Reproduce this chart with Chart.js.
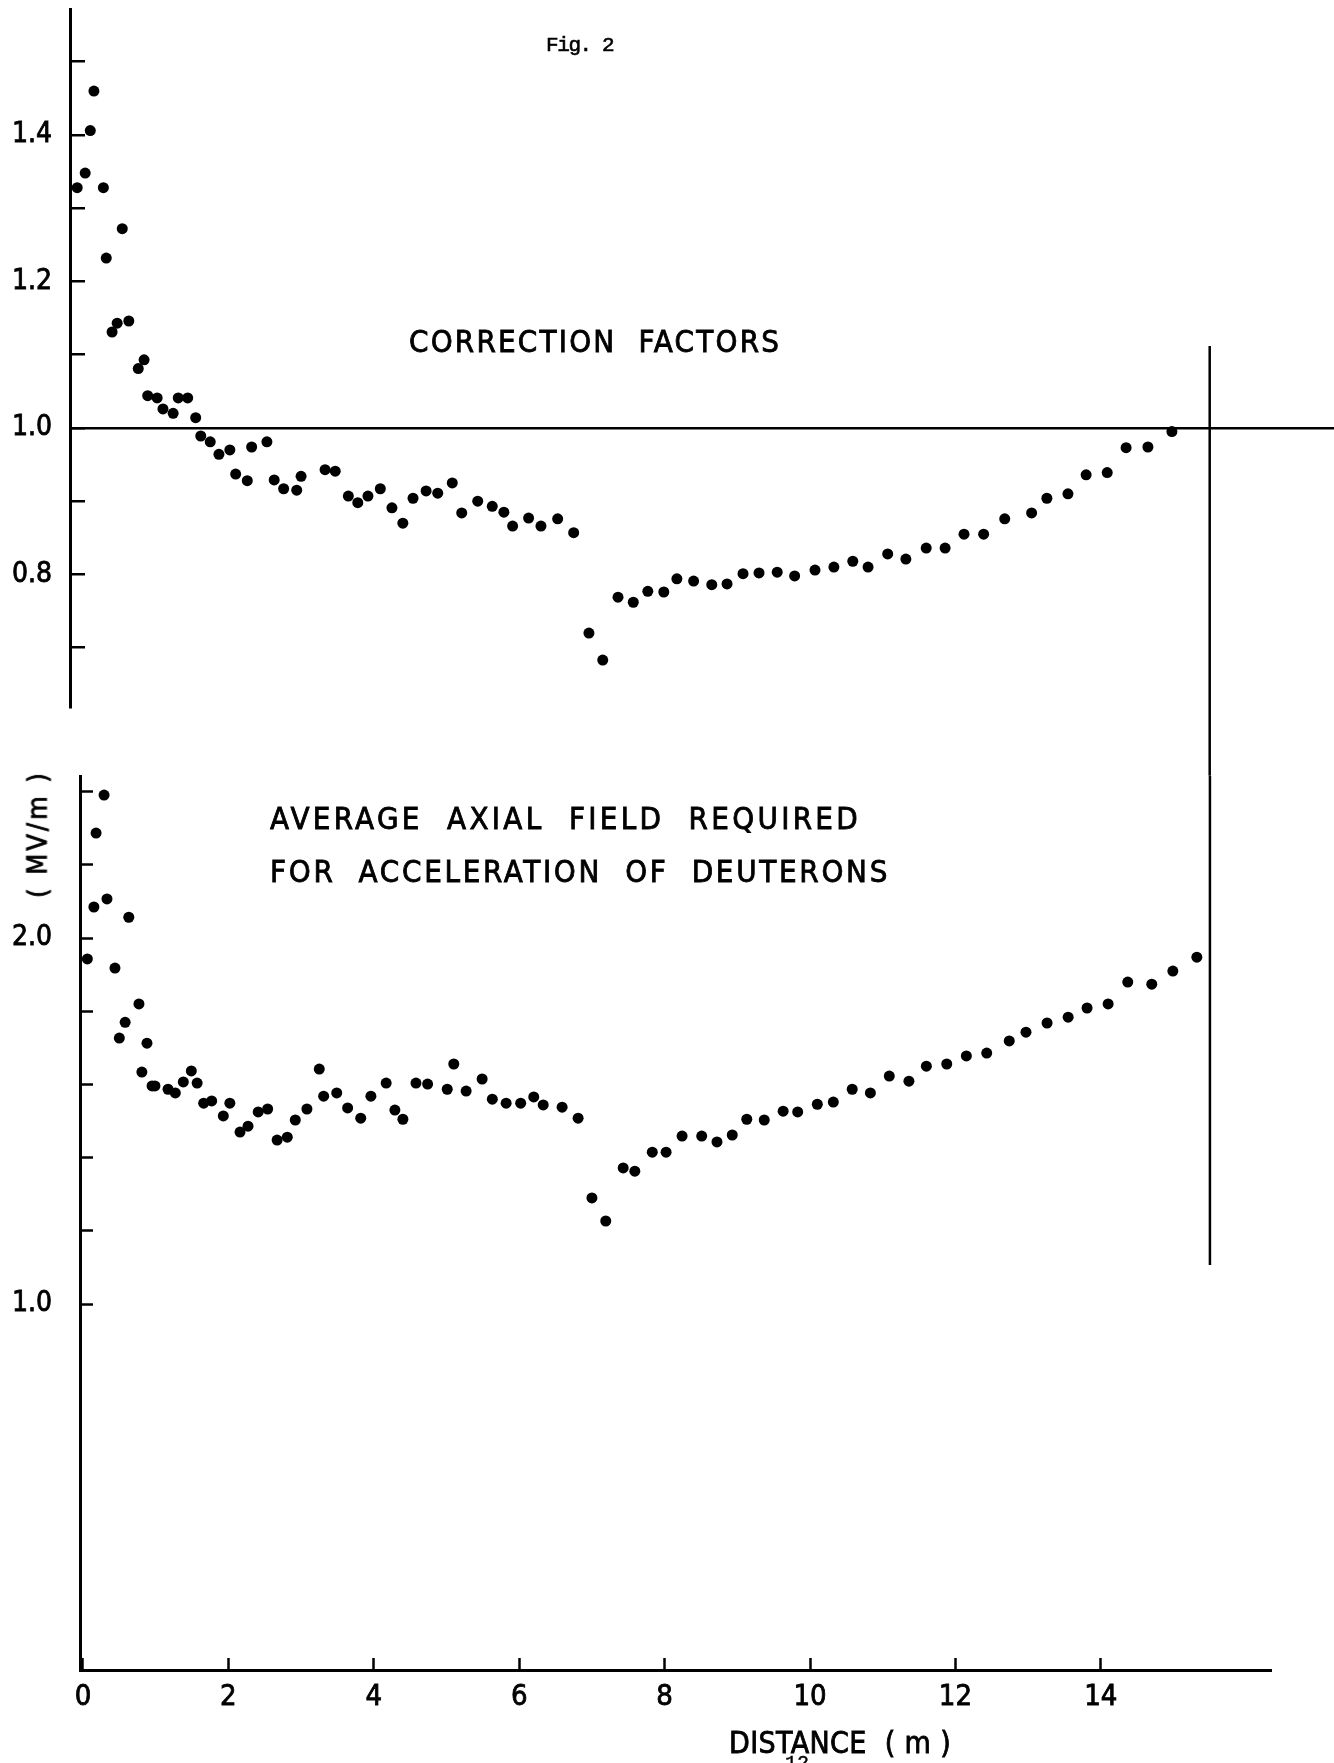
<!DOCTYPE html>
<html>
<head>
<meta charset="utf-8">
<title>Fig. 2</title>
<script src="https://cdn.jsdelivr.net/npm/chart.js@4.4.0/dist/chart.umd.min.js"></script>
<style>
  html, body { margin: 0; padding: 0; background: #fff; }
  body { width: 1334px; height: 1763px; position: relative; overflow: hidden; }
  canvas { position: absolute; left: 0; }
  #factor-chart { top: -60px; }
  #field-chart { top: 700px; }
  .lbl {
    position: absolute; white-space: pre; color: #000; z-index: 2;
    font-family: "DejaVu Sans Condensed", "DejaVu Sans", sans-serif;
    -webkit-text-stroke: 0.8px #000;
  }
  #fig-title { left: 546px; top: 34px; font: 21px "Liberation Mono", monospace; letter-spacing: -1.4px; -webkit-text-stroke: 0.6px #000; }
  #factor-title { left: 409px; top: 326px; font-size: 31px; line-height: 31px; letter-spacing: 2.2px; }
  #field-title-1 { left: 270px; top: 803px; font-size: 31px; line-height: 31px; letter-spacing: 3.3px; }
  #field-title-2 { left: 270px; top: 856px; font-size: 31px; line-height: 31px; letter-spacing: 2.7px; }
  #field-unit { left: 37px; top: 834px; font-size: 27px; line-height: 27px; letter-spacing: 3px;
    transform: translate(-50%, -50%) rotate(-90deg); }
  #x-title { left: 729px; top: 1728px; font-size: 30px; line-height: 30px; letter-spacing: 0.4px; }
  #page-no { left: 785px; top: 1752px; font: 20px "Liberation Mono", monospace; -webkit-text-stroke: 0.4px #000; }
</style>
</head>
<body>
<canvas id="factor-chart" width="1334" height="1000"></canvas>
<canvas id="field-chart" width="1334" height="1063"></canvas>
<div class="lbl" id="fig-title">Fig. 2</div>
<div class="lbl" id="factor-title">CORRECTION  FACTORS</div>
<div class="lbl" id="field-title-1">AVERAGE  AXIAL  FIELD  REQUIRED</div>
<div class="lbl" id="field-title-2">FOR  ACCELERATION  OF  DEUTERONS</div>
<div class="lbl" id="field-unit">( MV/m )</div>
<div class="lbl" id="x-title">DISTANCE  ( m )</div>
<div class="lbl" id="page-no">12</div>
<script>
// tick values
const distanceTicks = [0, 2, 4, 6, 8, 10, 12, 14];
const factorTickLabels = [0.8, 1.0, 1.2, 1.4];
const fieldTickLabels = [1.0, 2.0];

// correction factors (top panel)
const factorDistance = [-0.08, 0.03, 0.10, 0.15, 0.28, 0.32, 0.40, 0.47, 0.54, 0.63,
    0.76, 0.84, 0.89, 1.02, 1.10, 1.24, 1.31, 1.44, 1.55, 1.62,
    1.75, 1.87, 2.02, 2.10, 2.26, 2.32, 2.53, 2.63, 2.76, 2.94,
    3.00, 3.33, 3.47, 3.65, 3.78, 3.92, 4.09, 4.25, 4.40, 4.54,
    4.72, 4.88, 5.08, 5.21, 5.43, 5.63, 5.79, 5.91, 6.13, 6.30,
    6.53, 6.75, 6.96, 7.15, 7.36, 7.57, 7.77, 7.99, 8.17, 8.40,
    8.65, 8.86, 9.08, 9.30, 9.55, 9.79, 10.07, 10.33, 10.59, 10.80,
    11.07, 11.32, 11.60, 11.86, 12.12, 12.39, 12.68, 13.05, 13.26, 13.55,
    13.80, 14.09, 14.35, 14.65, 14.98];
const factorValues = [1.328, 1.348, 1.406, 1.460, 1.328, 1.232, 1.131, 1.143, 1.272, 1.146,
    1.081, 1.093, 1.044, 1.041, 1.026, 1.020, 1.041, 1.041, 1.014, 0.989,
    0.981, 0.964, 0.970, 0.937, 0.928, 0.974, 0.981, 0.929, 0.917, 0.915,
    0.934, 0.943, 0.941, 0.907, 0.898, 0.907, 0.917, 0.891, 0.870, 0.904,
    0.914, 0.911, 0.925, 0.884, 0.900, 0.893, 0.885, 0.866, 0.877, 0.866,
    0.876, 0.857, 0.720, 0.683, 0.769, 0.762, 0.777, 0.776, 0.794, 0.791,
    0.786, 0.787, 0.801, 0.802, 0.803, 0.798, 0.806, 0.810, 0.818, 0.810,
    0.828, 0.821, 0.836, 0.836, 0.855, 0.855, 0.876, 0.884, 0.904, 0.910,
    0.936, 0.939, 0.973, 0.974, 0.995];

// average axial field, MV/m (bottom panel)
const fieldDistance = [0.06, 0.15, 0.18, 0.29, 0.33, 0.44, 0.50, 0.58, 0.63, 0.77,
    0.81, 0.88, 0.95, 0.99, 1.17, 1.27, 1.38, 1.49, 1.57, 1.66,
    1.77, 1.93, 2.02, 2.16, 2.27, 2.41, 2.54, 2.67, 2.81, 2.92,
    3.08, 3.25, 3.31, 3.49, 3.64, 3.82, 3.96, 4.17, 4.29, 4.40,
    4.58, 4.74, 5.01, 5.10, 5.27, 5.49, 5.63, 5.82, 6.02, 6.20,
    6.33, 6.59, 6.81, 7.00, 7.19, 7.43, 7.59, 7.83, 8.02, 8.24,
    8.51, 8.72, 8.93, 9.13, 9.37, 9.63, 9.83, 10.10, 10.32, 10.58,
    10.83, 11.09, 11.36, 11.60, 11.88, 12.15, 12.43, 12.74, 12.97, 13.26,
    13.55, 13.81, 14.10, 14.37, 14.70, 14.99, 15.32];
const fieldValues = [1.943, 2.085, 2.287, 2.391, 2.107, 1.918, 1.727, 1.770, 2.057, 1.820,
    1.634, 1.713, 1.596, 1.596, 1.587, 1.577, 1.607, 1.637, 1.604, 1.549,
    1.555, 1.514, 1.549, 1.470, 1.486, 1.525, 1.533, 1.448, 1.456, 1.503,
    1.533, 1.642, 1.568, 1.577, 1.536, 1.508, 1.568, 1.604, 1.530, 1.505,
    1.604, 1.601, 1.587, 1.656, 1.582, 1.615, 1.560, 1.549, 1.549, 1.566,
    1.544, 1.538, 1.508, 1.290, 1.227, 1.372, 1.363, 1.415, 1.415, 1.459,
    1.459, 1.443, 1.462, 1.505, 1.503, 1.527, 1.525, 1.546, 1.552, 1.587,
    1.577, 1.623, 1.609, 1.650, 1.656, 1.678, 1.686, 1.719, 1.743, 1.768,
    1.784, 1.809, 1.820, 1.880, 1.874, 1.910, 1.948];

// reference lines
const unityFactor = 1.0;
const refDistance = 15.5;
const refLineFactorTop = 1.112;
const refLineFactorEnd = 0.525;
const refLineFieldTop = 2.443;
const refLineFieldEnd = 1.107;

const black = "#000";
const tickFont = { family: "'DejaVu Sans Condensed', 'DejaVu Sans', sans-serif", size: 28 };

function zip(xs, ys) {
    return xs.map((x, i) => ({ x: x, y: ys[i] }));
}

function isOneOf(value, list) {
    return list.some((v) => Math.abs(v - value) < 1e-6);
}

const dotStyle = {
    pointRadius: 5.5,
    pointBackgroundColor: black,
    pointBorderWidth: 0,
    pointHoverRadius: 5.5
};

const refLineStyle = {
    type: "line",
    borderColor: black,
    borderWidth: 2.5,
    pointRadius: 0,
    clip: false
};

const factorChart = new Chart(document.getElementById("factor-chart"), {
    type: "scatter",
    data: {
        datasets: [
            Object.assign({ data: zip(factorDistance, factorValues) }, dotStyle),
            Object.assign({
                data: [{ x: refDistance, y: refLineFactorTop }, { x: refDistance, y: refLineFactorEnd }]
            }, refLineStyle)
        ]
    },
    options: {
        responsive: false,
        animation: false,
        devicePixelRatio: 1,
        layout: { autoPadding: false, padding: { top: 69, bottom: 233, left: 0, right: 0 } },
        plugins: { legend: { display: false }, tooltip: { enabled: false } },
        scales: {
            x: { type: "linear", display: false, min: -0.179, max: 17.21 },
            y: {
                min: 0.619,
                max: 1.572,
                afterFit: (s) => { s.width = 70; },
                border: { display: true, color: black, width: 3 },
                grid: {
                    drawOnChartArea: true,
                    color: (ctx) => (ctx.tick && isOneOf(ctx.tick.value, [unityFactor]) ? black : "rgba(0,0,0,0)"),
                    lineWidth: 2.5,
                    tickLength: -15,
                    tickColor: black,
                    tickWidth: 2.5
                },
                ticks: {
                    stepSize: 0.1,
                    includeBounds: false,
                    padding: 33,
                    color: black,
                    font: tickFont,
                    textStrokeColor: black,
                    textStrokeWidth: 0.8,
                    callback: (v) => (isOneOf(v, factorTickLabels) ? v.toFixed(1) : "")
                }
            }
        }
    }
});

const fieldChart = new Chart(document.getElementById("field-chart"), {
    type: "scatter",
    data: {
        datasets: [
            Object.assign({ data: zip(fieldDistance, fieldValues) }, dotStyle),
            Object.assign({
                data: [{ x: refDistance, y: refLineFieldTop }, { x: refDistance, y: refLineFieldEnd }]
            }, refLineStyle)
        ]
    },
    options: {
        responsive: false,
        animation: false,
        devicePixelRatio: 1,
        layout: { autoPadding: false, padding: { top: 76, bottom: 23, left: 0, right: 63 } },
        plugins: { legend: { display: false }, tooltip: { enabled: false } },
        scales: {
            x: {
                type: "linear",
                min: -0.041,
                max: 16.34,
                afterFit: (s) => { s.height = 70; },
                afterBuildTicks: (s) => { s.ticks = distanceTicks.map((v) => ({ value: v })); },
                border: { display: true, color: black, width: 3 },
                grid: { drawOnChartArea: false, tickLength: -12, tickColor: black, tickWidth: 2.5 },
                ticks: {
                    padding: 22,
                    color: black,
                    font: { family: tickFont.family, size: 29 },
                    textStrokeColor: black,
                    textStrokeWidth: 0.8,
                    maxRotation: 0,
                    autoSkip: false,
                    callback: (v) => String(v)
                }
            },
            y: {
                min: 0,
                max: 2.443,
                afterFit: (s) => { s.width = 80; },
                afterBuildTicks: (s) => { s.ticks = s.ticks.filter((t) => t.value > 0.99); },
                border: { display: true, color: black, width: 3 },
                grid: { drawOnChartArea: false, tickLength: -13, tickColor: black, tickWidth: 2.5 },
                ticks: {
                    stepSize: 0.2,
                    includeBounds: false,
                    padding: 41,
                    color: black,
                    font: tickFont,
                    textStrokeColor: black,
                    textStrokeWidth: 0.8,
                    callback: (v) => (isOneOf(v, fieldTickLabels) ? v.toFixed(1) : "")
                }
            }
        }
    }
});
</script>
</body>
</html>
